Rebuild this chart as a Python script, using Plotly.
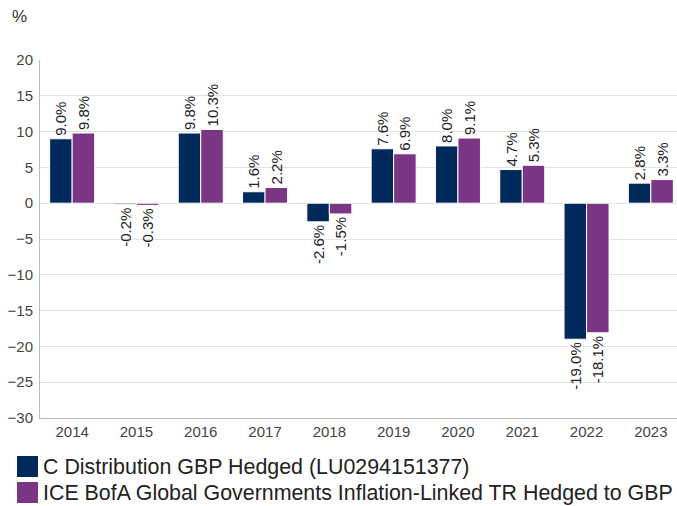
import plotly.graph_objects as go

years = ["2014", "2015", "2016", "2017", "2018", "2019", "2020", "2021", "2022", "2023"]
fund = [9.0, -0.2, 9.8, 1.6, -2.6, 7.6, 8.0, 4.7, -19.0, 2.8]
index = [9.8, -0.3, 10.3, 2.2, -1.5, 6.9, 9.1, 5.3, -18.1, 3.3]
fund_name = "C Distribution GBP Hedged (LU0294151377)"
index_name = "ICE BofA Global Governments Inflation-Linked TR Hedged to GBP"
colors = ["#002A5C", "#7B3585"]

font_family = "Liberation Sans, Arial, sans-serif"

W, H = 683, 506
L, R, T, B = 40, 0, 60, 88
pw, ph = W - L - R, H - T - B

def px_x(x):
    return (x - L) / pw

def px_y(y):
    return (H - B - y) / ph

fig = go.Figure()
for name, vals, col in [(fund_name, fund, colors[0]), (index_name, index, colors[1])]:
    fig.add_trace(go.Bar(
        x=years, y=vals, name=name,
        marker=dict(color=col, line=dict(color="white", width=1)),
        text=[f"{v:.1f}%" for v in vals],
        textposition="outside", textangle=-90,
        textfont=dict(size=15, color="#222222", family=font_family),
        cliponaxis=False, showlegend=False,
    ))

fig.update_layout(
    width=W, height=H,
    margin=dict(l=L, r=R, t=T, b=B, autoexpand=False),
    paper_bgcolor="white", plot_bgcolor="white",
    barmode="group", bargap=0.3, bargroupgap=0.0,
    font=dict(family=font_family, size=15, color="#444444"),
    showlegend=False,
    uniformtext=dict(mode="show", minsize=15),
)
fig.update_yaxes(range=[-30, 20], dtick=5, showgrid=True, gridcolor="#e3e3e3",
                 showline=True, linecolor="#bbbbbb", zeroline=False, automargin=False,
                 tickfont=dict(size=15, color="#444444"), ticks="", ticklabelstandoff=3)
fig.update_xaxes(showline=True, linecolor="#bbbbbb", showgrid=False, automargin=False,
                 tickfont=dict(size=15, color="#444444"), ticks="")

fig.add_annotation(text="%", x=px_x(10), y=px_y(16), xref="paper", yref="paper",
                   xanchor="left", yanchor="middle", showarrow=False,
                   font=dict(size=17, color="#333333"))

# legend (manual, to match large square swatches)
for i, (name, col) in enumerate([(fund_name, colors[0]), (index_name, colors[1])]):
    top = 456 + i * 26
    fig.add_shape(type="rect", xref="paper", yref="paper",
                  x0=px_x(17), x1=px_x(38), y0=px_y(top), y1=px_y(top + 21),
                  fillcolor=col, line=dict(width=0))
    fig.add_annotation(text=name, x=px_x(41), y=px_y(top + 11), xref="paper", yref="paper",
                       xanchor="left", yanchor="middle", showarrow=False,
                       font=dict(size=21.4, color="#222222"))

fig.write_html("out.html", config={"displayModeBar": False},
               post_script="document.body.style.margin='0';document.body.style.padding='0';"
                           "document.body.style.overflow='hidden';"
                           "document.documentElement.style.overflow='hidden';")
